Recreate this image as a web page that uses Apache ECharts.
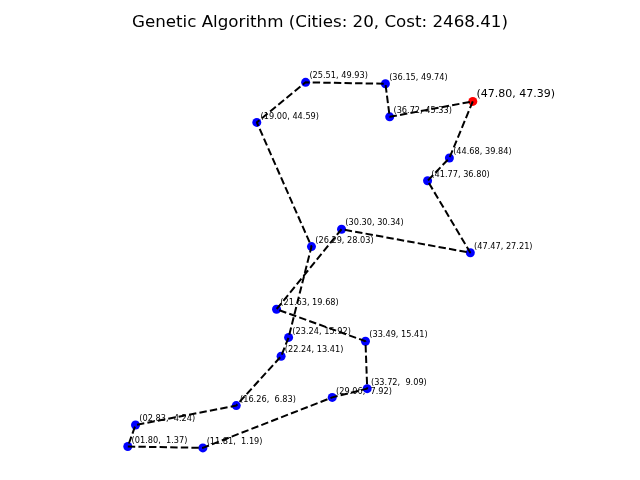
<!DOCTYPE html>
<html>
<head>
<meta charset="utf-8">
<script src="https://cdn.jsdelivr.net/npm/echarts@6/dist/echarts.min.js"></script>
<style>html,body{margin:0;padding:0;background:#fff}#c{width:640px;height:480px}</style>
</head>
<body>
<div id="c"></div>
<script>
// Tour order (start city first)
var pathX = [47.80, 44.68, 41.77, 47.47, 30.30, 21.63, 33.49, 33.72, 29.06, 11.81, 1.80, 2.83, 16.26, 22.24, 23.24, 26.29, 19.00, 25.51, 36.15, 36.72];
var pathY = [47.39, 39.84, 36.80, 27.21, 30.34, 19.68, 15.41, 9.09, 7.92, 1.19, 1.37, 4.24, 6.83, 13.41, 15.92, 28.03, 44.59, 49.93, 49.74, 45.33];
var titleText = 'Genetic Algorithm (Cities: 20, Cost: 2468.41)';

function pad(v, w) { var s = v.toFixed(2); while (s.length < w) s = ' ' + s; return s; }
function padZero(v) { var s = v.toFixed(2); while (s.length < 5) s = '0' + s; return s; }
function lbl(x, y) { return '(' + padZero(x) + ', ' + pad(y, 5) + ')'; }

var lineData = [];
for (var i = 0; i < pathX.length; i++) lineData.push([pathX[i], pathY[i]]);
lineData.push([pathX[0], pathY[0]]);

var blueData = [];
for (var j = 1; j < pathX.length; j++) blueData.push({ value: [pathX[j], pathY[j]], name: lbl(pathX[j], pathY[j]) });
var redData = [{ value: [pathX[0], pathY[0]], name: lbl(pathX[0], pathY[0]) }];

var chart = echarts.init(document.getElementById('c'), null, { renderer: 'canvas' });
chart.setOption({
  animation: false,
  backgroundColor: '#ffffff',
  title: {
    text: titleText, left: 'center', top: 9,
    textStyle: { fontFamily: 'DejaVu Sans', fontSize: 16.7, fontWeight: 'normal', color: '#000' }
  },
  grid: { left: 114.3, top: 36.8, width: 480, height: 420 },
  xAxis: { type: 'value', min: 0, max: 64, show: false },
  yAxis: { type: 'value', min: 0, max: 56, show: false },
  series: [
    {
      type: 'scatter', data: blueData, symbolSize: 9, z: 2,
      itemStyle: { color: '#0000ff', opacity: 1 },
      label: {
        show: true, formatter: function (p) { return p.name; },
        position: [8.25, 2.5], align: 'left', verticalAlign: 'bottom',
        fontFamily: 'DejaVu Sans', fontSize: 8.2, color: '#000'
      }
    },
    {
      type: 'scatter', data: redData, symbolSize: 9, z: 2,
      itemStyle: { color: '#ff0000', opacity: 1 },
      label: {
        show: true, formatter: function (p) { return p.name; },
        position: [8.25, 3], align: 'left', verticalAlign: 'bottom',
        fontFamily: 'DejaVu Sans', fontSize: 11, color: '#000'
      }
    },
    {
      type: 'line', data: lineData, symbol: 'none', z: 5,
      lineStyle: { color: '#000', width: 2, type: [7.4, 3.2] }
    }
  ]
});
</script>
</body>
</html>
